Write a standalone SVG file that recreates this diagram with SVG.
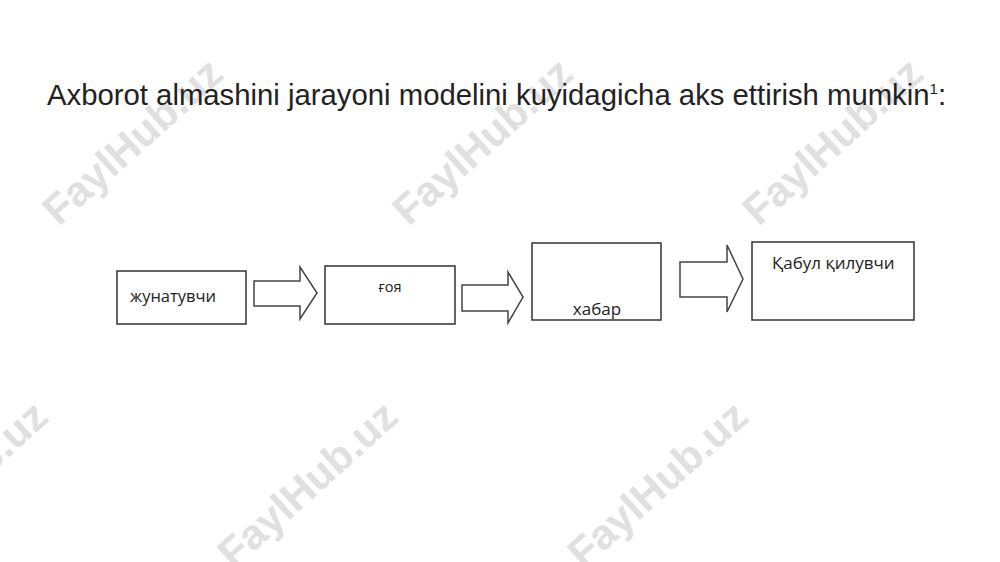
<svg xmlns="http://www.w3.org/2000/svg" width="1000" height="562" viewBox="0 0 1000 562">
<style>
.wm{font-family:"Liberation Sans",Arial,sans-serif;font-weight:bold;font-size:42px;fill:#e0e0e0;text-anchor:middle}
.title{font-family:"Liberation Sans",Arial,sans-serif;font-size:29.3px;fill:#222}
.box{fill:#fff;stroke:#333;stroke-width:1.5}
.arr{fill:#fff;stroke:#444;stroke-width:1.5;stroke-linejoin:miter}
.lbl{font-family:"Open Sans","Liberation Sans",Arial,sans-serif;fill:#222}
</style>
<rect width="1000" height="562" fill="#fff"/>
<g id="watermarks">
<text class="wm" transform="translate(142,152) rotate(-42)">FaylHub.uz</text>
<text class="wm" transform="translate(492,152) rotate(-42)">FaylHub.uz</text>
<text class="wm" transform="translate(842,152) rotate(-42)">FaylHub.uz</text>
<text class="wm" transform="translate(-33,495) rotate(-42)">FaylHub.uz</text>
<text class="wm" transform="translate(317,495) rotate(-42)">FaylHub.uz</text>
<text class="wm" transform="translate(667,495) rotate(-42)">FaylHub.uz</text>
</g>
<text class="title" x="47" y="105">Axborot almashini jarayoni modelini kuyidagicha aks ettirish mumkin<tspan font-size="15" dy="-11">1</tspan><tspan dy="11">:</tspan></text>
<g id="connectors">
<polygon class="arr" points="254,281 300,281 300,267 317,293 300,319 300,306 254,306"/>
<polygon class="arr" points="462,285 508,285 508,272 523,297 508,323 508,311 462,311"/>
<polygon class="arr" points="680,262 727,262 727,245 743,279 727,312 727,297 680,297"/>
</g>
<g id="node1">
<rect class="box" x="117" y="271" width="129" height="53"/>
<text class="lbl" x="130" y="302" font-size="16.5">жунатувчи</text>
</g>
<g id="node2">
<rect class="box" x="325" y="266" width="130" height="58"/>
<text class="lbl" x="390" y="292" font-size="14.5" text-anchor="middle">ғоя</text>
</g>
<g id="node3">
<rect class="box" x="532" y="243" width="129" height="77"/>
<text class="lbl" x="597" y="315" font-size="17" text-anchor="middle">хабар</text>
</g>
<g id="node4">
<rect class="box" x="752" y="242" width="162" height="78"/>
<text class="lbl" x="772" y="269" font-size="17">Қабул қилувчи</text>
</g>
</svg>
